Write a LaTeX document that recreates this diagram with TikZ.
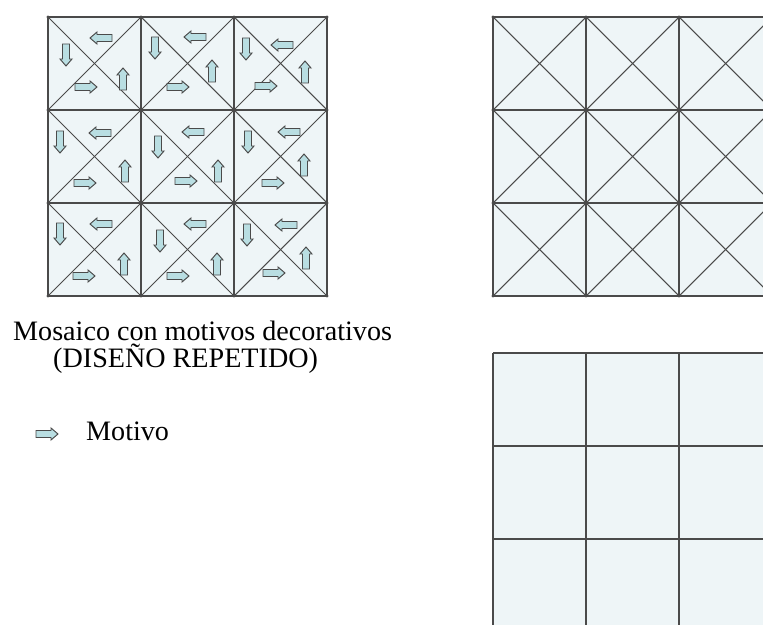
\documentclass[tikz,border=0pt]{standalone}
\usepackage{fontspec}
\setmainfont{Liberation Serif}
\usepackage{xcolor}

\definecolor{celeste}{HTML}{EEF5F7}
\definecolor{relleno}{HTML}{B9DEE2}
\definecolor{linea}{HTML}{4A4A4A}

\tikzset{
  rejilla/.style={draw=linea,line width=0.9pt},
  losa/.style={fill=celeste},
  flecha/.style={draw=linea,fill=relleno,line width=0.8pt,line join=miter},
  vertice/.style={fill=linea},
  rotulo/.style={font=\fontsize{24}{29}\selectfont,inner sep=0pt}
}

% block arrow: x, y, angle
\newcommand{\motivo}[3]{%
  \draw[flecha,shift={(#1,#2)},rotate=#3]
    (-11,-3.5) -- (4,-3.5) -- (4,-6) -- (11,0) -- (4,6) -- (4,3.5) -- (-11,3.5) -- cycle;}

\begin{document}
\begin{tikzpicture}[x=0.03cm,y=-0.03cm]
    \useasboundingbox (0,0) rectangle (763,625);
    \clip (0,0) rectangle (763,625);

    % Mosaico decorado
    \fill[losa] (48,17) rectangle (327,296);
    \foreach \c in {0,1,2}
      \foreach \r in {0,1,2} {
        \draw[rejilla] (48+93*\c,17+93*\r) -- ++(93,93);
        \draw[rejilla] (141+93*\c,17+93*\r) -- ++(-93,93);
      }
    \foreach \i in {0,...,3} {
      \draw[rejilla] (48+93*\i,17) -- (48+93*\i,296);
      \draw[rejilla] (48,17+93*\i) -- (327,17+93*\i);
    }
    \foreach \i in {0,...,3}
      \foreach \j in {0,...,3}
        \fill[vertice] (48+93*\i,17+93*\j) circle (1.3pt);

    % Motivos en cada losa
    \foreach \c/\r/\lx/\ly/\dx/\dy/\rx/\ry/\ux/\uy in {
        0/0/53/21/18/38/38/70/75/62, 1/0/54/20/14/31/37/70/71/54,
        2/0/48/28/12/32/32/69/71/55, 0/1/52/23/12/32/37/73/77/61,
        1/1/52/22/17/37/45/71/77/61, 2/1/55/22/14/32/39/73/70/55,
        0/2/53/21/12/31/36/73/76/61, 1/2/54/21/19/38/37/73/76/61,
        2/2/52/22/13/32/40/70/72/55} {
      \motivo{48+93*\c+\lx}{17+93*\r+\ly}{180}
      \motivo{48+93*\c+\dx}{17+93*\r+\dy}{-90}
      \motivo{48+93*\c+\rx}{17+93*\r+\ry}{0}
      \motivo{48+93*\c+\ux}{17+93*\r+\uy}{90}
    }

    % Mosaico con diagonales
    \fill[losa] (493,17) rectangle (772,296);
    \foreach \c in {0,1,2}
      \foreach \r in {0,1,2} {
        \draw[rejilla] (493+93*\c,17+93*\r) -- ++(93,93);
        \draw[rejilla] (586+93*\c,17+93*\r) -- ++(-93,93);
      }
    \foreach \i in {0,...,3} {
      \draw[rejilla] (493+93*\i,17) -- (493+93*\i,296);
      \draw[rejilla] (493,17+93*\i) -- (772,17+93*\i);
    }
    \foreach \i in {0,...,2}
      \foreach \j in {0,...,3}
        \fill[vertice] (493+93*\i,17+93*\j) circle (1.3pt);

    % Mosaico cuadriculado
    \fill[losa] (493,353) rectangle (772,632);
    \foreach \i in {0,...,3} {
      \draw[rejilla] (493+93*\i,353) -- (493+93*\i,632);
      \draw[rejilla] (493,353+93*\i) -- (772,353+93*\i);
    }

    % Textos
    \node[rotulo,anchor=base west] (titulo) at (13,340) {Mosaico con motivos decorativos};
    \node[rotulo,anchor=base west] (subtitulo) at (53,367) {(DISEÑO REPETIDO)};

    % Leyenda
    \motivo{47}{434}{0}
    \node[rotulo,anchor=base west] (leyenda) at (86,440) {Motivo};
\end{tikzpicture}
\end{document}
